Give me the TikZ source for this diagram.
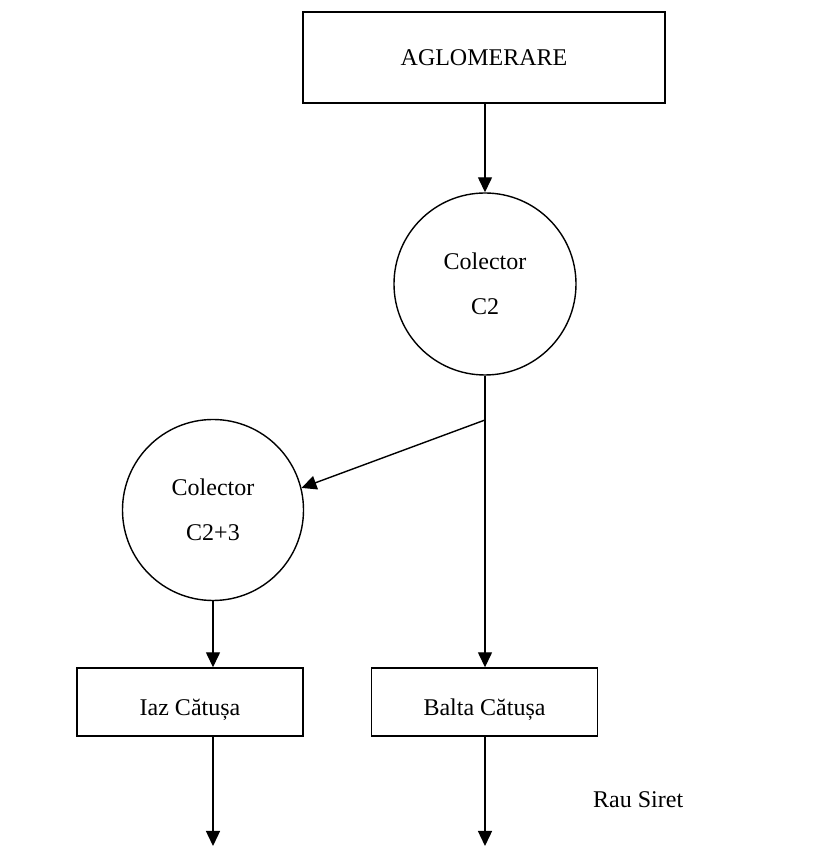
\documentclass[tikz,border=0pt]{standalone}
\usepackage{fontspec}
\setmainfont{Liberation Serif}
\usetikzlibrary{arrows.meta}

\tikzset{
  flow/.style={line width=1.4pt, -{Triangle[length=15pt,width=14pt]}},
  link/.style={line width=1.4pt},
  stepbox/.style={draw, line width=1.4pt, inner sep=0pt, align=center,
    font=\fontsize{24}{28}\selectfont},
  collector/.style={draw, circle, line width=1.4pt, inner sep=0pt, align=center,
    font=\fontsize{24}{45}\selectfont},
}
% text set a little below the middle of its box
\newcommand{\lowtext}[1]{\raisebox{-14pt}[0pt][0pt]{#1}}

\begin{document}
\begin{tikzpicture}[x=1pt, y=1pt]
  \fill[white] (0,0) rectangle (833,846);
  \useasboundingbox (0,0) rectangle (833,846);

  % sources and collectors
  \node[stepbox, minimum width=362pt, minimum height=91pt] (aglo) at (484,788.5) {AGLOMERARE};
  \node[collector, minimum size=182pt] (c2) at (485,562) {Colector\\C2};
  \node[collector, minimum size=181pt] (c23) at (213,336) {Colector\\C2+3};

  % receiving ponds
  \node[stepbox, minimum width=226pt, minimum height=68pt] (iaz) at (190,144)
    {\lowtext{Iaz Cătușa}};
  \node[stepbox, minimum width=226pt, minimum height=68pt] (balta) at (484.5,144)
    {\lowtext{Balta Cătușa}};

  % river label
  \node[anchor=west, inner sep=0pt, font=\fontsize{24}{28}\selectfont] (siret) at (593,46) {Rau Siret};

  % branching point and outlets
  \coordinate (fork) at (485,426);
  \coordinate (out1) at (213,0);
  \coordinate (out2) at (485,0);

  % connectors
  \draw[flow] (aglo.south -| c2.north) -- (c2.north);
  \draw[link] (c2.south) -- (fork);
  \draw[flow] (fork) -- (fork |- balta.north);
  \draw[flow] (fork) -- (c23.14);
  \draw[flow] (c23.south) -- (c23.south |- iaz.north);
  \draw[flow] (c23.south |- iaz.south) -- (out1);
  \draw[flow] (fork |- balta.south) -- (out2);
\end{tikzpicture}
\end{document}
